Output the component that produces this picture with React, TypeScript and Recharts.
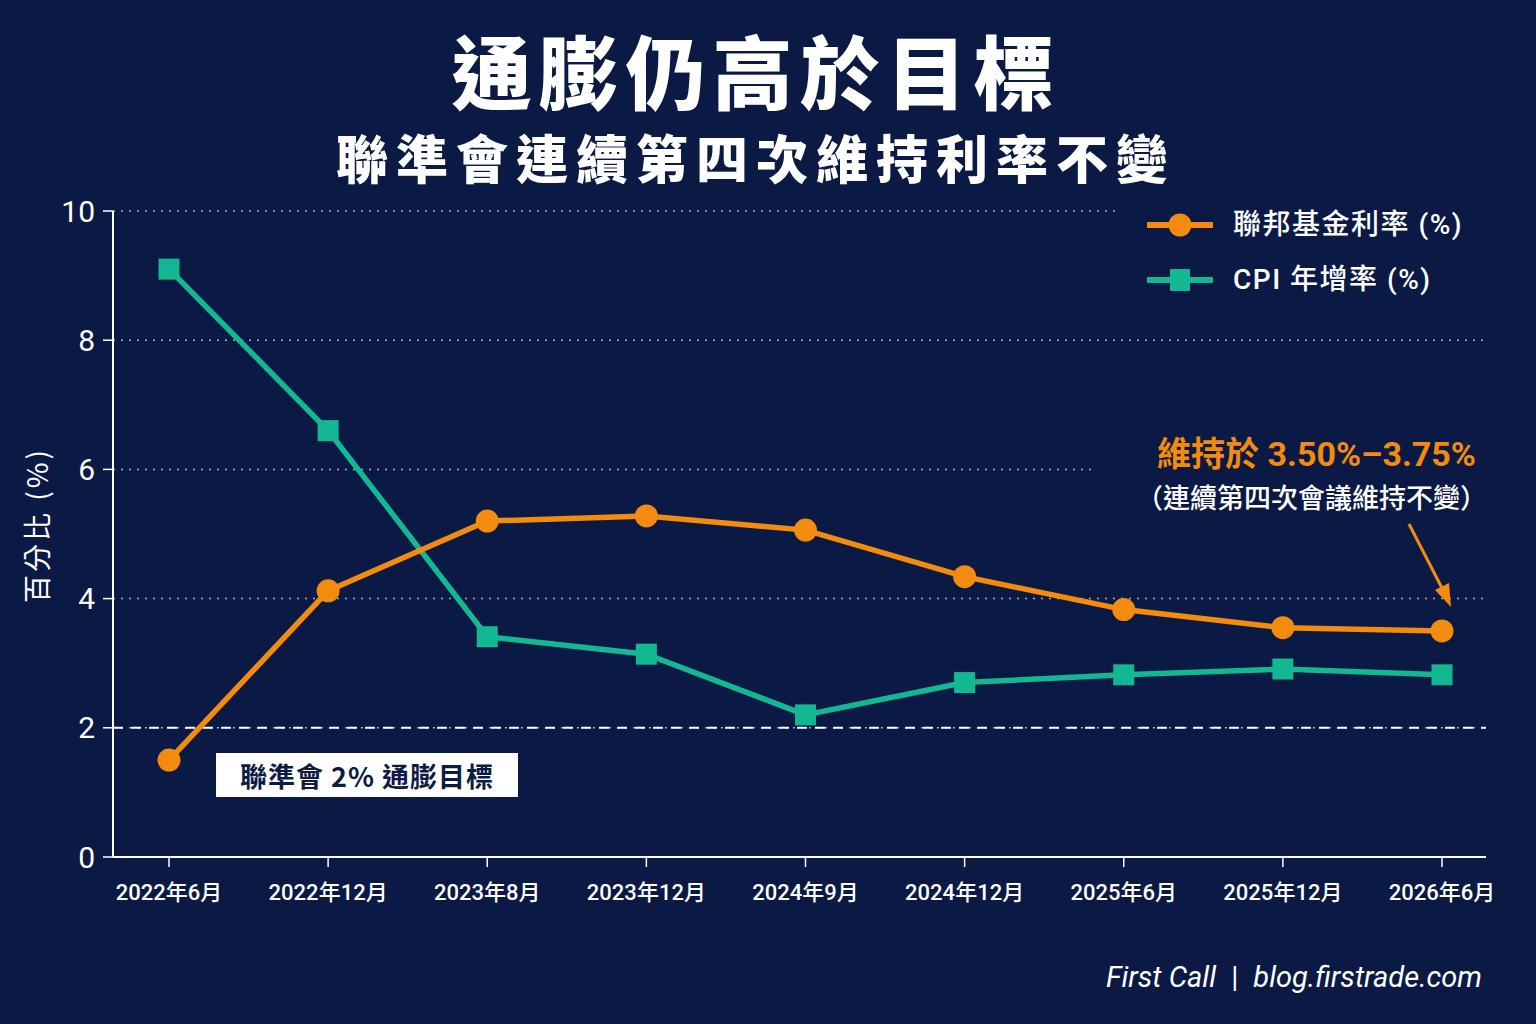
import React from 'react';
import { LineChart, Line, XAxis, YAxis, CartesianGrid, ReferenceLine } from 'recharts';

const categories = ['2022年6月', '2022年12月', '2023年8月', '2023年12月', '2024年9月', '2024年12月', '2025年6月', '2025年12月', '2026年6月'];
const fedFundsRate = [1.5, 4.12, 5.2, 5.28, 5.06, 4.34, 3.83, 3.55, 3.5];
const cpiYoY = [9.1, 6.6, 3.41, 3.14, 2.2, 2.7, 2.82, 2.91, 2.82];
const yTicks = [0, 2, 4, 6, 8, 10];

const data = categories.map((c, i) => ({ name: c, fed: fedFundsRate[i], cpi: cpiYoY[i] }));

const BG = '#0a1a45';
const ORANGE = '#f38b0e';
const GREEN = '#13b893';
const CJK = "'Noto Sans CJK TC', 'Noto Sans CJK SC', sans-serif";
const NUM = "Roboto, 'Noto Sans CJK TC', sans-serif";

if (typeof document !== 'undefined') {
  document.body.style.margin = '0';
  document.body.style.background = BG;
}

const CircleDot = (props: any) => {
  const { cx, cy, index } = props;
  if (cx == null || cy == null) return <g key={`c${index}`} />;
  return <circle key={`c${index}`} cx={cx} cy={cy} r={11.5} fill={ORANGE} />;
};

const SquareDot = (props: any) => {
  const { cx, cy, index } = props;
  if (cx == null || cy == null) return <g key={`s${index}`} />;
  return <rect key={`s${index}`} x={cx - 10.5} y={cy - 10.5} width={21} height={21} fill={GREEN} />;
};

export default function App() {
  return (
    <div style={{ position: 'relative', width: 1536, height: 1024, background: BG, overflow: 'hidden', fontFamily: CJK }}>
      <div style={{ position: 'absolute', left: 0, width: 1512, top: 18, textAlign: 'center', color: '#fff', fontSize: 80, fontWeight: 900, letterSpacing: 7, lineHeight: '100px' }}>
        通膨仍高於目標
      </div>
      <div style={{ position: 'absolute', left: 0, width: 1512, top: 124, textAlign: 'center', color: '#fff', fontSize: 52, fontWeight: 900, letterSpacing: 8, lineHeight: '66px' }}>
        聯準會連續第四次維持利率不變
      </div>

      <div style={{ position: 'absolute', left: 0, top: 0 }}>
        <LineChart width={1536} height={1024} data={data} margin={{ top: 211, right: 50, bottom: 107, left: 0 }}>
          <CartesianGrid vertical={false} stroke="rgba(255,255,255,0.65)" strokeDasharray="2 6" strokeWidth={1.5} />
          <XAxis
            dataKey="name"
            height={60}
            padding={{ left: 56, right: 44 }}
            axisLine={{ stroke: '#fff', strokeWidth: 2 }}
            tickLine={{ stroke: '#fff', strokeWidth: 1.5 }}
            tickSize={10}
            tickMargin={17}
            tick={{ fill: '#fff', fontSize: 22, fontFamily: NUM, fontWeight: 500 }}
            interval={0}
          />
          <YAxis
            domain={[0, 10]}
            ticks={yTicks}
            width={113}
            axisLine={{ stroke: '#fff', strokeWidth: 2 }}
            tickLine={{ stroke: '#fff', strokeWidth: 1.5 }}
            tickSize={10}
            tickMargin={8}
            tick={{ fill: '#fff', fontSize: 30, fontFamily: NUM }}
          />
          <ReferenceLine y={2} stroke="#fff" strokeWidth={2} strokeDasharray="10 8" />
          <Line
            type="linear"
            dataKey="cpi"
            stroke={GREEN}
            strokeWidth={5.5}
            dot={SquareDot}
            activeDot={false}
            isAnimationActive={false}
          />
          <Line
            type="linear"
            dataKey="fed"
            stroke={ORANGE}
            strokeWidth={5.5}
            dot={CircleDot}
            activeDot={false}
            isAnimationActive={false}
          />
        </LineChart>
      </div>

      {/* Y axis title */}
      <div style={{ position: 'absolute', left: 36, top: 525, transform: 'translate(-50%, -50%) rotate(-90deg)', color: '#fff', fontSize: 28, letterSpacing: 3, whiteSpace: 'nowrap', fontFamily: CJK }}>
        百分比 (%)
      </div>

      {/* Legend */}
      <div style={{ position: 'absolute', left: 1118, top: 196, width: 418, height: 112, background: BG }}>
        <svg width={80} height={112} style={{ position: 'absolute', left: 28, top: 0 }}>
          <line x1={1} x2={67} y1={29} y2={29} stroke={ORANGE} strokeWidth={6} />
          <circle cx={34} cy={29} r={11.5} fill={ORANGE} />
          <line x1={1} x2={67} y1={84} y2={84} stroke={GREEN} strokeWidth={6} />
          <rect x={24} y={73} width={20} height={22} fill={GREEN} />
        </svg>
        <div style={{ position: 'absolute', left: 115, top: 10, color: '#fff', fontSize: 28, fontWeight: 500, letterSpacing: 1.5, lineHeight: '38px', whiteSpace: 'nowrap', fontFamily: NUM }}>
          聯邦基金利率 (%)
        </div>
        <div style={{ position: 'absolute', left: 115, top: 65, color: '#fff', fontSize: 28, fontWeight: 500, letterSpacing: 1.5, lineHeight: '38px', whiteSpace: 'nowrap', fontFamily: NUM }}>
          CPI 年增率 (%)
        </div>
      </div>

      {/* Annotation */}
      <div style={{ position: 'absolute', left: 1092, top: 428, width: 444, height: 96, background: BG }}>
        <div style={{ position: 'absolute', right: 60, top: 4, color: ORANGE, fontSize: 34, fontWeight: 700, whiteSpace: 'nowrap', lineHeight: '44px', fontFamily: NUM }}>
          維持於 3.50%–3.75%
        </div>
        <div style={{ position: 'absolute', right: 49, top: 51, color: '#fff', fontSize: 27, fontWeight: 500, whiteSpace: 'nowrap', lineHeight: '36px', fontFamily: CJK }}>
          （連續第四次會議維持不變）
        </div>
      </div>
      <svg width={1536} height={1024} style={{ position: 'absolute', left: 0, top: 0, pointerEvents: 'none' }}>
        <line x1={1409} y1={524} x2={1444} y2={592} stroke={ORANGE} strokeWidth={3} />
        <polygon points="1451,607 1435,590 1449,583" fill={ORANGE} />
      </svg>

      {/* 2% target label */}
      <div style={{ position: 'absolute', left: 216, top: 753, width: 302, height: 44, background: '#fff', boxSizing: 'border-box', display: 'flex', alignItems: 'center', justifyContent: 'center', color: '#0c1a44', fontSize: 27, fontWeight: 700, letterSpacing: 1, whiteSpace: 'nowrap', fontFamily: CJK }}>
        聯準會 2% 通膨目標
      </div>

      {/* Footer */}
      <div style={{ position: 'absolute', right: 54, top: 957, color: '#fff', fontSize: 29, fontStyle: 'italic', whiteSpace: 'nowrap', lineHeight: '40px', fontFamily: NUM }}>
        First Call <span style={{ fontStyle: 'normal', margin: '0 8px' }}>|</span> blog.firstrade.com
      </div>
    </div>
  );
}
